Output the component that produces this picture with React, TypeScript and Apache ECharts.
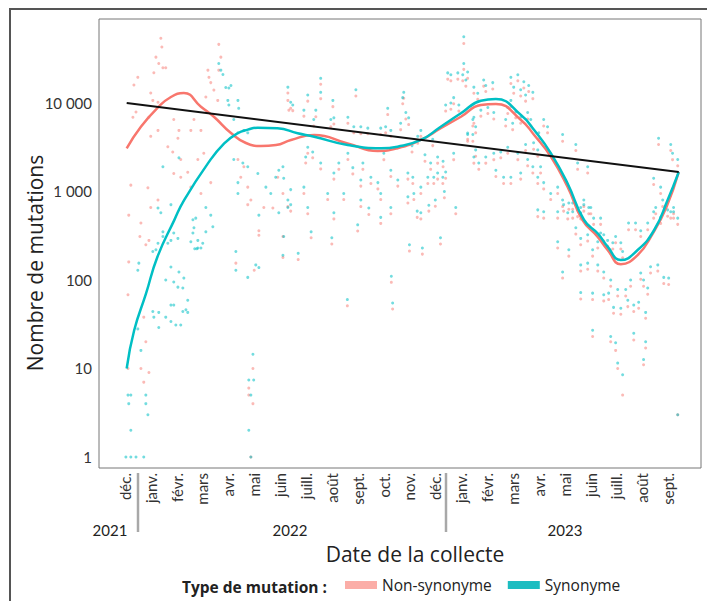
import React, { useEffect, useRef } from "react";
import * as echarts from "echarts";

// Month tick labels (index 0 = déc. 2021 ... 21 = sept. 2023)
const monthLabels = [
  "déc.", "janv.", "févr.", "mars", "avr.", "mai", "juin", "juill.", "août", "sept.", "oct.", "nov.",
  "déc.", "janv.", "févr.", "mars", "avr.", "mai", "juin", "juill.", "août", "sept.",
];
const yearLabels = ["2021", "2022", "2023"];

// Early period (déc. 2021 – mai 2022): [month, count]
const synonymeEarly: [number, number][] = [
  [0.04, 1], [0.23, 1], [0.43, 1], [0.73, 1], [0.12, 5], [0.23, 5], [0.15, 4], [0.81, 5], [0.81, 4], [0.89, 3], [0.23, 2],
  [0.5, 28], [0.62, 16], [0.54, 155], [0.5, 129],
  [1.08, 210], [1.2, 220], [1.47, 350], [1.47, 310], [1.66, 260], [1.78, 280], [1.89, 340], [2.05, 295],
  [1.28, 260], [1.78, 140], [1.58, 100], [1.89, 95], [2.09, 123], [2.28, 105],
  [2.05, 83], [2.24, 81], [2.43, 59], [1.78, 52], [1.89, 52],
  [1.08, 44], [1.31, 43], [1.12, 38], [1.58, 38], [1.78, 34], [1.97, 31], [2.16, 31], [1.31, 29], [2.36, 46], [2.43, 43], [2.24, 44],
  [2.55, 270], [2.63, 340], [2.82, 280], [3.01, 260], [2.94, 230], [2.82, 230], [2.67, 390], [3.13, 350], [2.63, 480], [2.74, 500],
  [3.13, 660], [3.4, 400], [3.32, 540], [2.7, 225], [2.78, 225],
  [1.39, 575], [1.28, 650], [1.78, 710],
  [4.75, 107], [4.29, 210], [4.29, 129], [5.18, 540], [5.18, 138], [5.06, 148], [6.14, 310], [6.11, 190],
  [4.95, 14.5], [4.79, 7.4], [4.98, 7.4], [4.87, 5], [4.79, 2], [4.87, 1],
  [3.63, 28000], [3.71, 23500], [3.79, 21000], [3.9, 15000], [4.02, 14800], [4.1, 15800], [3.98, 10700], [4.37, 10700],
  [4.02, 9500], [4.4, 8700], [4.21, 6500], [4.6, 4900], [4.75, 4600], [4.37, 4600],
  [1.47, 1900], [2.09, 2400],
  [4.21, 2300], [4.56, 2100], [4.75, 1900], [5.14, 1600], [5.45, 1120], [5.64, 950], [5.83, 1450], [5.95, 1740],
  [6.11, 1900], [6.14, 1410], [6.41, 1050], [6.3, 660], [5.95, 575], [4.37, 1260], [4.37, 950],
];

const nonSynonymeEarly: [number, number][] = [
  [1.39, 54000], [1.43, 43000], [1.2, 33000], [1.31, 28000], [1.47, 25000], [1.58, 25000], [1.12, 22000], [0.5, 19500],
  [0.35, 16000], [1.0, 13000], [1.08, 10700], [1.28, 10200], [0.93, 6900], [0.31, 6900], [0.43, 7900], [1.0, 4200],
  [1.28, 4900], [1.89, 6500], [2.05, 4000], [2.09, 4900], [1.66, 3200], [1.85, 2800], [2.16, 2300], [2.55, 4900],
  [2.67, 6500], [2.94, 4900], [3.21, 23500], [3.25, 19500], [3.32, 17000], [3.44, 14000], [3.13, 11700], [3.59, 10700],
  [3.63, 46000], [3.71, 33000], [3.63, 23500], [1.89, 1600], [2.16, 1450], [2.43, 1650], [2.82, 2300], [3.05, 2700],
  [2.55, 1120], [2.94, 950], [3.32, 1260], [0.23, 1180], [0.89, 1100], [1.0, 660], [1.28, 800],
  [4.37, 2300], [4.6, 1900], [4.48, 1450], [4.75, 1120], [4.87, 800], [5.37, 660], [5.91, 1450], [6.11, 950],
  [6.3, 10700], [6.34, 8300],
  [0.15, 540], [0.62, 440], [0.58, 310], [0.81, 250], [0.93, 280], [0.15, 160], [0.12, 68], [0.73, 38], [0.81, 20],
  [0.12, 10], [0.62, 10], [0.73, 7], [0.93, 9],
  [4.75, 710], [5.18, 360], [5.18, 320], [4.29, 155], [5.0, 129], [6.11, 310], [6.11, 180], [5.72, 650],
  [4.95, 10], [4.79, 6], [4.79, 5], [4.95, 4], [4.87, 1],
];

// Later samples (juin 2022 – déc. 2022): [month, synonyme, non-synonyme]
const samples2022: [number, number, number][] = [
  [6.3, 15100, 13000], [6.41, 10200, 8700], [6.49, 9500, 8200], [6.92, 8300, 7100], [7.07, 12300, 10500], [7.38, 8300, 7000],
  [7.3, 6500, 5500], [7.57, 13200, 11200], [7.57, 19000, 16300], [8.04, 10700, 9100], [7.96, 6500, 5400], [8.08, 6800, 5800],
  [8.62, 6900, 5900], [8.85, 5400, 4600], [8.93, 14100, 12000], [9.12, 5400, 4500], [9.39, 5200, 4500], [9.89, 5200, 4400],
  [10.08, 5400, 4600], [10.16, 8700, 7400], [10.78, 13200, 11300], [10.74, 11500, 9800], [10.86, 7800, 6600], [10.97, 6800, 5700],
  [10.66, 5900, 5000], [10.28, 4900, 4200], [11.32, 4200, 3500], [11.44, 4900, 4200],
  [7.07, 3160, 2700], [7.26, 2800, 2400], [6.99, 2450, 2100], [7.57, 2100, 1800], [8.08, 1620, 1380], [8.27, 2100, 1780],
  [8.62, 2700, 2300], [8.81, 1860, 1580], [9.12, 1350, 1150], [9.2, 2100, 1780], [9.51, 1450, 1230], [9.78, 1260, 1070],
  [9.89, 950, 810], [10.01, 2700, 2290], [10.28, 1740, 1480], [10.55, 1350, 1150], [10.94, 1620, 1380], [11.13, 1450, 1230],
  [11.44, 1120, 950], [11.71, 1450, 1230], [11.82, 2100, 1780], [12.09, 1620, 1380], [12.09, 2450, 2090],
  [6.3, 800, 675], [6.41, 710, 600], [6.92, 1120, 950], [7.07, 660, 560], [7.84, 950, 810], [8.08, 575, 490], [8.46, 950, 810],
  [9.12, 800, 675], [9.43, 650, 550], [9.89, 510, 436], [10.28, 660, 560], [10.94, 870, 740], [11.17, 950, 810], [11.44, 575, 490],
  [11.94, 1450, 1230],
  [8.0, 300, 255], [8.6, 60, 51], [10.3, 110, 94], [10.35, 55, 47], [11.0, 250, 212], [11.5, 230, 196], [7.2, 350, 300],
  [6.7, 200, 170], [9.0, 420, 357], [12.2, 300, 255],
  [11.1, 3300, 2800], [11.6, 2600, 2200], [11.9, 3900, 3300], [12.3, 2200, 1900], [12.0, 800, 680], [11.3, 600, 510],
  [12.35, 1000, 850], [11.75, 700, 600],
];

// Samples 2023: [month, synonyme, non-synonyme]
const samples2023: [number, number, number][] = [
  [12.71, 2700, 2290], [13.25, 4570, 3890], [13.49, 2450, 2090],
  [13.1, 56000, 47000], [12.48, 21900, 18600], [12.6, 20900, 17800], [12.87, 21900, 18600], [13.06, 20900, 17800],
  [13.1, 28000, 24000], [13.25, 22400, 19000], [13.18, 18200, 15500], [12.71, 11500, 9800], [12.6, 10000, 8500],
  [12.4, 9500, 8100], [12.91, 9500, 8100],
  [13.49, 15100, 12900], [13.64, 12900, 11000], [13.87, 18200, 15500], [13.95, 15800, 13500], [14.22, 17000, 14400],
  [13.76, 8300, 7100], [14.03, 8900, 7600], [14.26, 7800, 6600], [13.49, 6900, 5900], [13.45, 6500, 5500],
  [13.56, 5400, 4600], [13.25, 4400, 3700], [13.45, 4400, 3700],
  [14.92, 19500, 16600], [15.19, 20900, 17800], [15.42, 17400, 14800], [15.61, 15800, 13500], [15.03, 15100, 12900],
  [15.3, 14100, 12000], [15.49, 12300, 10500], [15.77, 13200, 11200], [14.92, 10700, 9100], [14.8, 8900, 7600],
  [15.11, 7900, 6800], [15.3, 6900, 5900], [15.57, 7800, 6600], [15.69, 6500, 5500], [14.72, 6500, 5500], [14.99, 5900, 5000],
  [16.19, 6500, 5500], [16.34, 5400, 4600], [16.0, 4600, 3900], [15.49, 3400, 2900], [15.8, 3550, 3000], [15.96, 2950, 2500],
  [15.57, 2300, 1950], [15.77, 1900, 1620], [16.07, 1900, 1620], [15.19, 2700, 2290], [14.8, 3160, 2700], [14.53, 2800, 2400],
  [14.26, 2700, 2290], [13.95, 2450, 2090], [13.56, 2950, 2500], [13.68, 2100, 1780], [14.34, 1740, 1480], [14.64, 1450, 1230],
  [14.92, 1450, 1230], [15.3, 1620, 1380],
  [16.92, 4400, 3700], [17.43, 3400, 2900], [17.5, 2100, 1780], [17.89, 1900, 1620], [15.96, 1450, 1230], [16.19, 1260, 1070],
  [16.46, 950, 810], [16.73, 1120, 950], [16.92, 800, 675], [17.16, 740, 630], [17.31, 590, 500], [17.62, 575, 490],
  [17.74, 800, 675], [18.01, 660, 560], [12.79, 660, 560], [12.4, 1660, 1410], [12.29, 1450, 1230],
  [15.96, 620, 520], [16.19, 590, 500], [16.73, 590, 500], [16.96, 710, 600], [17.12, 575, 490], [17.31, 740, 630],
  [17.5, 620, 520], [17.62, 660, 560], [17.74, 710, 600], [17.93, 660, 560],
  [16.73, 270, 230], [17.16, 220, 186], [17.43, 390, 330], [17.62, 295, 250], [17.89, 325, 275], [18.12, 500, 425],
  [18.39, 500, 425], [18.08, 220, 186], [18.28, 270, 230], [18.39, 340, 290], [18.51, 325, 275], [18.66, 280, 240],
  [18.86, 263, 224], [18.97, 310, 263], [19.17, 263, 224], [19.24, 210, 178], [19.47, 440, 370], [19.74, 440, 370],
  [19.94, 360, 310], [20.21, 440, 370], [20.44, 590, 500], [20.52, 660, 560], [20.71, 510, 436], [20.98, 620, 525],
  [21.21, 590, 500], [21.37, 500, 425],
  [16.92, 123, 105], [17.62, 148, 126], [17.89, 155, 132], [18.28, 148, 126], [18.51, 123, 105], [18.78, 100, 85],
  [19.05, 78, 66], [19.36, 78, 66], [19.55, 100, 85], [19.94, 120, 102], [20.32, 141, 120], [20.6, 148, 126],
  [20.05, 100, 85], [20.21, 81, 69], [20.83, 107, 91], [21.02, 105, 89],
  [17.62, 72, 61], [18.08, 71, 60], [18.51, 68, 58], [18.7, 71, 60], [18.89, 49, 42], [19.17, 48, 41], [19.44, 59, 50],
  [19.67, 52, 44], [19.86, 56, 48], [20.13, 43, 37],
  [18.08, 27, 23], [18.78, 23, 20], [18.97, 19.5, 16], [19.67, 25, 21], [20.13, 20, 17], [19.05, 11.5, 10], [19.24, 8.5, 5],
  [20.05, 12.6, 11], [21.37, 3, 3],
  [20.63, 4000, 3400], [20.44, 1410, 1200], [20.71, 1120, 950], [21.1, 3400, 2900], [21.17, 2700, 2290], [21.37, 2300, 1950],
  [20.79, 800, 675], [21.21, 660, 560], [21.1, 590, 500],
];

// Smoothed trends and log-linear regression
const nonSynonymeTrend: [number, number][] = [
  [0.07, 3080], [0.62, 5400], [1.26, 8790], [1.78, 11700], [2.28, 12970], [2.94, 9080], [3.44, 7000], [4.1, 4580],
  [4.68, 3530], [5.26, 3270], [5.84, 3350], [6.42, 3820], [7.32, 4350], [8.61, 3500], [9.77, 2870], [10.54, 3080],
  [11.44, 3820], [12.21, 5180], [12.99, 7000], [13.76, 9490], [14.34, 9750], [15.31, 6430], [15.82, 4350], [16.47, 2470],
  [17.11, 1130], [17.69, 476], [18.27, 309], [18.66, 219], [19.17, 151], [19.82, 191], [20.41, 337], [20.94, 673],
  [21.41, 1660],
];
const synonymeTrend: [number, number][] = [
  [0.07, 10], [0.36, 27], [0.81, 69], [1.26, 183], [1.91, 475], [2.29, 800], [3.21, 2080], [3.84, 3500], [4.36, 4550],
  [4.75, 5000], [5.13, 5250], [5.9, 5180], [6.68, 4550], [7.32, 4160], [8.61, 3350], [9.9, 3080], [10.54, 3210], [11.44, 3820],
  [12.21, 5400], [12.99, 7650], [13.76, 10600], [14.34, 11100], [15.31, 7310], [15.82, 4950], [16.47, 2700],
  [17.11, 1240], [17.75, 476], [18.3, 330], [18.66, 238], [19.17, 168], [19.82, 218], [20.46, 367], [20.98, 800],
  [21.41, 1660],
];
const regressionLine: [number, number][] = [
  [0.07, 10000], [21.41, 1660],
];

const TICK_FONT = "Lato, 'Open Sans', sans-serif";
const TITLE_FONT = "'Open Sans', Lato, sans-serif";
const RED = "#F8766D";
const TEAL = "#00BFC4";

function formatThousands(v: number): string {
  const l = Math.log10(v);
  const r = Math.round(l);
  if (Math.abs(l - r) > 1e-6) return "";
  const n = Math.round(Math.pow(10, r));
  return n.toString().replace(/\B(?=(\d{3})+(?!\d))/g, " ");
}

export default function App() {
  const ref = useRef<HTMLDivElement>(null);

  useEffect(() => {
    if (!ref.current) return;
    const chart = echarts.init(ref.current, undefined, { renderer: "svg" });

    const allSamples = [...samples2022, ...samples2023];
    const synData = [...synonymeEarly, ...allSamples.map((s) => [s[0], s[1]])];
    const nonSynData = [...nonSynonymeEarly, ...allSamples.map((s) => [s[0], s[2]])];

    chart.setOption({
      animation: false,
      backgroundColor: "#ffffff",
      textStyle: { fontFamily: TICK_FONT },
      grid: {
        left: 99,
        right: 6,
        top: 19,
        bottom: 133,
        show: true,
        borderColor: "#777",
        borderWidth: 1,
        backgroundColor: "transparent",
      },
      legend: {
        left: 345,
        top: 577,
        padding: 0,
        itemWidth: 32,
        itemHeight: 8,
        itemGap: 16,
        selectedMode: false,
        textStyle: { fontSize: 15.5, color: "#222", fontFamily: TITLE_FONT },
        data: [
          { name: "Non-synonyme", icon: "rect", itemStyle: { color: "rgba(248,118,109,0.6)", opacity: 1 } },
          { name: "Synonyme", icon: "rect", itemStyle: { color: "#1DBDC1", opacity: 1 } },
        ],
      },
      xAxis: {
        type: "value",
        min: -1,
        max: 22.27,
        interval: 1,
        axisLine: { show: false },
        axisTick: { show: false },
        splitLine: { show: false },
        axisLabel: {
          rotate: 90,
          margin: 5,
          fontSize: 15,
          color: "#333",
          fontFamily: TICK_FONT,
          showMinLabel: true,
          showMaxLabel: true,
          formatter: (v: number) => {
            const i = Math.round(v);
            if (Math.abs(v - i) > 1e-6 || i < 0 || i >= monthLabels.length) return "";
            return monthLabels[i];
          },
        },
      },
      yAxis: {
        type: "log",
        logBase: 10,
        min: 0.75,
        max: 89000,
        axisLine: { show: false },
        axisTick: { show: false },
        splitLine: { show: false },
        axisLabel: {
          margin: 7,
          fontSize: 15,
          color: "#333",
          fontFamily: TICK_FONT,
          formatter: (v: number) => formatThousands(v),
        },
      },
      series: [
        {
          name: "Non-synonyme",
          type: "scatter",
          data: nonSynData,
          symbol: "circle",
          symbolSize: 3,
          itemStyle: { color: RED, opacity: 0.5 },
          z: 2,
        },
        {
          name: "Synonyme",
          type: "scatter",
          data: synData,
          symbol: "circle",
          symbolSize: 3,
          itemStyle: { color: TEAL, opacity: 0.55 },
          z: 3,
        },
        {
          name: "Tendance non-synonyme",
          type: "line",
          data: nonSynonymeTrend,
          smooth: 0.5,
          showSymbol: false,
          symbol: "none",
          lineStyle: { color: RED, width: 2.5 },
          itemStyle: { color: RED },
          z: 4,
        },
        {
          name: "Tendance synonyme",
          type: "line",
          data: synonymeTrend,
          smooth: 0.5,
          showSymbol: false,
          symbol: "none",
          lineStyle: { color: TEAL, width: 2.5 },
          itemStyle: { color: TEAL },
          z: 5,
        },
        {
          name: "Régression",
          type: "line",
          data: regressionLine,
          showSymbol: false,
          symbol: "none",
          lineStyle: { color: "#111", width: 2 },
          itemStyle: { color: "#111" },
          z: 6,
        },
      ],
      graphic: [
        {
          type: "rect",
          silent: true,
          shape: { x: 10, y: 9, width: 720, height: 640 },
          style: { fill: "none", stroke: "#555", lineWidth: 2 },
        },
        {
          type: "text",
          x: 35,
          y: 263,
          rotation: Math.PI / 2,
          style: {
            text: "Nombre de mutations",
            font: `21px ${TITLE_FONT}`,
            fill: "#222",
            textAlign: "center",
            textVerticalAlign: "middle",
          },
        },
        {
          type: "text",
          x: 415,
          y: 554,
          style: {
            text: "Date de la collecte",
            font: `21px ${TITLE_FONT}`,
            fill: "#222",
            textAlign: "center",
            textVerticalAlign: "middle",
          },
        },
        ...yearLabels.map((t, i) => ({
          type: "text",
          x: [110, 290, 565][i],
          y: 530,
          style: {
            text: t,
            font: `15px ${TICK_FONT}`,
            fill: "#222",
            textAlign: "center",
            textVerticalAlign: "middle",
          },
        })),
        {
          type: "line",
          shape: { x1: 138, y1: 473, x2: 138, y2: 532 },
          style: { stroke: "#a8a8a8", lineWidth: 2.5 },
        },
        {
          type: "line",
          shape: { x1: 446, y1: 473, x2: 446, y2: 532 },
          style: { stroke: "#a8a8a8", lineWidth: 2.5 },
        },
        {
          type: "text",
          x: 182,
          y: 587,
          style: {
            text: "Type de mutation :",
            font: `bold 15.5px ${TITLE_FONT}`,
            fill: "#222",
            textAlign: "left",
            textVerticalAlign: "middle",
          },
        },
      ],
    });

    return () => chart.dispose();
  }, []);

  return (
    <div
      ref={ref}
      style={{ position: "fixed", left: 0, top: 0, width: 707, height: 601, background: "#fff" }}
    />
  );
}
